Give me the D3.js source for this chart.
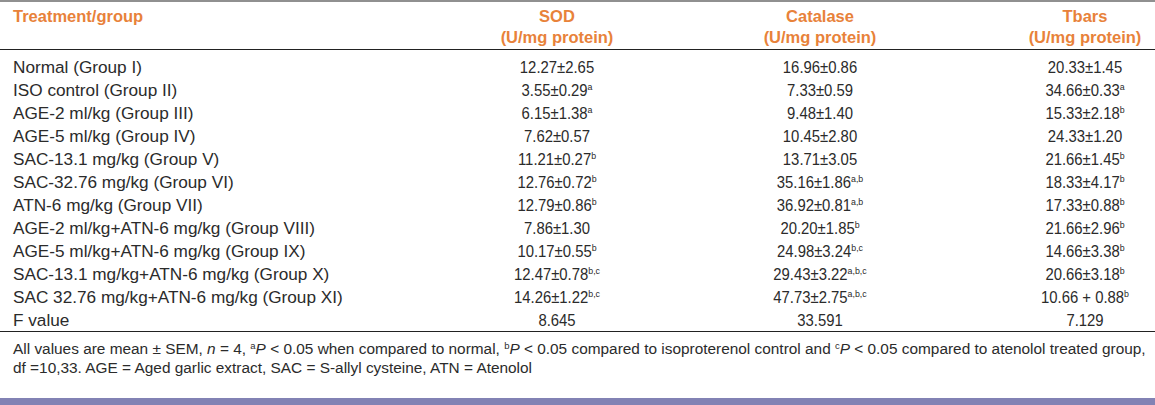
<!DOCTYPE html>
<html><head><meta charset="utf-8">
<script src="https://cdn.jsdelivr.net/npm/d3@7"></script>
<style>
html,body{margin:0;padding:0;background:#fff;}
svg{display:block;}
</style></head>
<body>
<svg id="c" width="1155" height="405"></svg>
<script>
const groups = [
  "Normal (Group I)",
  "ISO control (Group II)",
  "AGE-2 ml/kg (Group III)",
  "AGE-5 ml/kg (Group IV)",
  "SAC-13.1 mg/kg (Group V)",
  "SAC-32.76 mg/kg (Group VI)",
  "ATN-6 mg/kg (Group VII)",
  "AGE-2 ml/kg+ATN-6 mg/kg (Group VIII)",
  "AGE-5 ml/kg+ATN-6 mg/kg (Group IX)",
  "SAC-13.1 mg/kg+ATN-6 mg/kg (Group X)",
  "SAC 32.76 mg/kg+ATN-6 mg/kg (Group XI)",
  "F value"
];
const sod = ["12.27±2.65","3.55±0.29","6.15±1.38","7.62±0.57","11.21±0.27","12.76±0.72","12.79±0.86","7.86±1.30","10.17±0.55","12.47±0.78","14.26±1.22","8.645"];
const sodSup = ["","a","a","","b","b","b","","b","b,c","b,c",""];
const catalase = ["16.96±0.86","7.33±0.59","9.48±1.40","10.45±2.80","13.71±3.05","35.16±1.86","36.92±0.81","20.20±1.85","24.98±3.24","29.43±3.22","47.73±2.75","33.591"];
const catalaseSup = ["","","","","","a,b","a,b","b","b,c","a,b,c","a,b,c",""];
const tbars = ["20.33±1.45","34.66±0.33","15.33±2.18","24.33±1.20","21.66±1.45","18.33±4.17","17.33±0.88","21.66±2.96","14.66±3.38","20.66±3.18","10.66 + 0.88","7.129"];
const tbarsSup = ["","a","b","","b","b","b","b","b","b","b",""];
const headers = [["Treatment/group",""],["SOD","(U/mg protein)"],["Catalase","(U/mg protein)"],["Tbars","(U/mg protein)"]];

const svg = d3.select("#c");
const font = "'Liberation Sans', Arial, sans-serif";
const txt = "#2b2b2b", orange = "#e8823a";

const y = d3.scalePoint().domain(groups).range([67, 320]);
const cols = ["label","sod","cat","tb"];
const x = d3.scaleOrdinal().domain(cols).range([13, 557, 820, 1085]);

// rules
[1, 49.5, 331.5].forEach(v=>{
  svg.append("line").attr("x1",0).attr("x2",1155).attr("y1",v).attr("y2",v)
    .attr("stroke","#222").attr("stroke-width",1.2);
});
svg.append("rect").attr("x",0).attr("y",398).attr("width",1155).attr("height",7).attr("fill","#8282b4");

// headers
headers.forEach((h,i)=>{
  const anchor = i===0 ? "start" : "middle";
  svg.append("text").attr("x", x(cols[i])).attr("y", 21.5)
    .attr("text-anchor", anchor).attr("font-family", font).attr("font-weight","bold")
    .attr("font-size", 16.5).attr("fill", orange).text(h[0]);
  if (h[1]) svg.append("text").attr("x", x(cols[i])).attr("y", 43)
    .attr("text-anchor", anchor).attr("font-family", font).attr("font-weight","bold")
    .attr("font-size", 16.5).attr("fill", orange).text(h[1]);
});

// body labels
svg.selectAll("text.lab").data(groups).join("text").attr("class","lab")
  .attr("x", x("label")).attr("y", d=>y(d)+5.5)
  .attr("font-family", font).attr("font-size", 17.2).attr("fill", txt).text(d=>d);

function col(vals, sups, key){
  const t = svg.selectAll("text."+key).data(vals).join("text").attr("class",key)
    .attr("transform", (d,i)=>`translate(${x(key)},${y(groups[i])+5.5}) scale(0.93,1)`)
    .attr("text-anchor","middle").attr("font-family", font).attr("font-size", 16).attr("fill", txt);
  t.append("tspan").text(d=>d);
  t.append("tspan").attr("font-size", 9.5).attr("dy", (d,i)=>sups[i]? -5.5 : 0).text((d,i)=>sups[i]);
}
col(sod, sodSup, "sod");
col(catalase, catalaseSup, "cat");
col(tbars, tbarsSup, "tb");

// footnote
const ffs = 15.4;
const f1 = svg.append("text").attr("x",13).attr("y",354).attr("font-family",font).attr("font-size",ffs).attr("fill",txt);
const sup = (s)=> f1.append("tspan").attr("font-size",9.5).attr("dy",-5).text(s);
f1.append("tspan").text("All values are mean ± SEM, ");
f1.append("tspan").attr("font-style","italic").text("n");
f1.append("tspan").text(" = 4, ");
sup("a");
f1.append("tspan").attr("dy",5).attr("font-style","italic").text("P");
f1.append("tspan").text(" < 0.05 when compared to normal, ");
sup("b");
f1.append("tspan").attr("dy",5).attr("font-style","italic").text("P");
f1.append("tspan").text(" < 0.05 compared to isoproterenol control and ");
sup("c");
f1.append("tspan").attr("dy",5).attr("font-style","italic").text("P");
f1.append("tspan").text(" < 0.05 compared to atenolol treated group,");
svg.append("text").attr("x",13).attr("y",373).attr("font-family",font).attr("font-size",ffs).attr("fill",txt)
  .text("df =10,33. AGE = Aged garlic extract, SAC = S-allyl cysteine, ATN = Atenolol");
</script>
</body></html>
